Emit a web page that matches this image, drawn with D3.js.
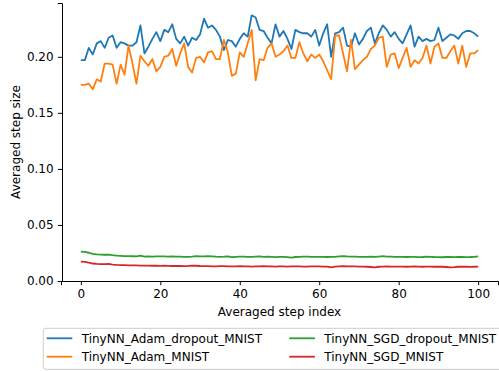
<!DOCTYPE html>
<html>
<head>
<meta charset="utf-8">
<script src="https://cdn.jsdelivr.net/npm/d3@7"></script>
<style>
  html, body { margin: 0; padding: 0; background: #fff; }
  svg { display: block; font-family: "DejaVu Sans", sans-serif; }
</style>
</head>
<body>
<svg id="chart" width="499" height="371"></svg>
<script>
// Averaged step size per averaged step index, one array per run
const adamDropout = [
  0.197, 0.197, 0.208, 0.202, 0.212, 0.214, 0.208, 0.217, 0.219, 0.208,
  0.213, 0.212, 0.210, 0.210, 0.213, 0.228, 0.203, 0.209, 0.216, 0.222,
  0.214, 0.224, 0.222, 0.229, 0.216, 0.212, 0.218, 0.210, 0.217, 0.215,
  0.220, 0.234, 0.226, 0.228, 0.224, 0.218, 0.206, 0.215, 0.214, 0.209,
  0.216, 0.221, 0.218, 0.237, 0.235, 0.224, 0.223, 0.217, 0.212, 0.229,
  0.218, 0.223, 0.216, 0.207, 0.224, 0.222, 0.221, 0.221, 0.218, 0.224,
  0.210, 0.221, 0.229, 0.200, 0.221, 0.222, 0.226, 0.210, 0.209, 0.221,
  0.211, 0.216, 0.223, 0.226, 0.212, 0.221, 0.228, 0.224, 0.218, 0.222,
  0.216, 0.212, 0.220, 0.228, 0.209, 0.218, 0.214, 0.216, 0.214, 0.215,
  0.226, 0.214, 0.217, 0.220, 0.219, 0.216, 0.221, 0.223, 0.223, 0.221,
  0.218
];
const adam = [
  0.175, 0.175, 0.176, 0.171, 0.180, 0.178, 0.194, 0.194, 0.193, 0.176,
  0.193, 0.184, 0.210, 0.194, 0.176, 0.201, 0.196, 0.192, 0.198, 0.187,
  0.191, 0.200, 0.201, 0.207, 0.192, 0.203, 0.212, 0.191, 0.186, 0.199,
  0.200, 0.195, 0.204, 0.205, 0.198, 0.198, 0.215, 0.204, 0.183, 0.185,
  0.204, 0.200, 0.212, 0.224, 0.179, 0.198, 0.197, 0.208, 0.212, 0.200,
  0.202, 0.205, 0.210, 0.199, 0.199, 0.213, 0.203, 0.196, 0.202, 0.199,
  0.202, 0.196, 0.188, 0.180, 0.219, 0.219, 0.203, 0.187, 0.215, 0.189,
  0.193, 0.197, 0.200, 0.207, 0.210, 0.217, 0.218, 0.191, 0.202, 0.203,
  0.190, 0.199, 0.208, 0.191, 0.197, 0.194, 0.199, 0.210, 0.194, 0.209,
  0.212, 0.199, 0.199, 0.205, 0.210, 0.194, 0.210, 0.191, 0.203, 0.203,
  0.206
];
const sgdDropout = [
  0.0262, 0.0260, 0.0252, 0.0242, 0.0237, 0.0236, 0.0234, 0.0235, 0.0230, 0.0226,
  0.0224, 0.0222, 0.0222, 0.0221, 0.0220, 0.0226, 0.0218, 0.0219, 0.0218, 0.0219,
  0.0220, 0.0219, 0.0218, 0.0219, 0.0218, 0.0217, 0.0216, 0.0215, 0.0217, 0.0222,
  0.0220, 0.0219, 0.0221, 0.0219, 0.0217, 0.0216, 0.0217, 0.0219, 0.0212, 0.0215,
  0.0218, 0.0217, 0.0216, 0.0215, 0.0217, 0.0219, 0.0216, 0.0217, 0.0215, 0.0213,
  0.0216, 0.0215, 0.0213, 0.0208, 0.0214, 0.0216, 0.0217, 0.0217, 0.0216, 0.0215,
  0.0216, 0.0215, 0.0214, 0.0215, 0.0216, 0.0219, 0.0222, 0.0219, 0.0218, 0.0217,
  0.0216, 0.0215, 0.0216, 0.0217, 0.0215, 0.0218, 0.0221, 0.0218, 0.0217, 0.0216,
  0.0215, 0.0216, 0.0214, 0.0215, 0.0216, 0.0213, 0.0214, 0.0217, 0.0216, 0.0214,
  0.0213, 0.0212, 0.0214, 0.0215, 0.0213, 0.0214, 0.0215, 0.0213, 0.0214, 0.0216,
  0.0220
];
const sgd = [
  0.0172, 0.0171, 0.0163, 0.0156, 0.0152, 0.0151, 0.0150, 0.0152, 0.0146, 0.0143,
  0.0142, 0.0141, 0.0140, 0.0140, 0.0139, 0.0138, 0.0137, 0.0137, 0.0136, 0.0136,
  0.0135, 0.0136, 0.0135, 0.0134, 0.0134, 0.0135, 0.0133, 0.0134, 0.0138, 0.0136,
  0.0134, 0.0133, 0.0132, 0.0131, 0.0130, 0.0132, 0.0133, 0.0131, 0.0130, 0.0131,
  0.0132, 0.0131, 0.0130, 0.0129, 0.0130, 0.0131, 0.0132, 0.0131, 0.0130, 0.0129,
  0.0130, 0.0131, 0.0129, 0.0130, 0.0131, 0.0130, 0.0129, 0.0128, 0.0130, 0.0131,
  0.0130, 0.0129, 0.0128, 0.0122, 0.0128, 0.0130, 0.0132, 0.0131, 0.0130, 0.0131,
  0.0129, 0.0128, 0.0127, 0.0125, 0.0122, 0.0127, 0.0129, 0.0130, 0.0129, 0.0128,
  0.0129, 0.0128, 0.0127, 0.0129, 0.0130, 0.0128, 0.0127, 0.0129, 0.0128, 0.0127,
  0.0128, 0.0127, 0.0125, 0.0122, 0.0124, 0.0127, 0.0128, 0.0127, 0.0126, 0.0127,
  0.0128
];

const seriesNames = [
  "TinyNN_Adam_dropout_MNIST",
  "TinyNN_Adam_MNIST",
  "TinyNN_SGD_dropout_MNIST",
  "TinyNN_SGD_MNIST"
];
const seriesColors = ["#1f77b4", "#ff7f0e", "#2ca02c", "#d62728"];
const xTicks = [0, 20, 40, 60, 80, 100];
const yTicks = [0, 0.05, 0.10, 0.15, 0.20];

const series = [adamDropout, adam, sgdDropout, sgd].map((values, k) => ({
  name: seriesNames[k],
  color: seriesColors[k],
  values
}));

const svg = d3.select("#chart");

const x = d3.scaleLinear().domain([-5, 105]).range([61, 498]);
const y = d3.scaleLinear().domain([0, 0.248]).range([281, 3]);

// axes: only left and bottom spines
const xAxis = svg.append("g")
  .attr("transform", "translate(0,281)")
  .call(d3.axisBottom(x).tickValues(xTicks).tickSizeOuter(0)
    .tickSize(4.2).tickPadding(4.2).tickFormat(d3.format("d")));
const yAxis = svg.append("g")
  .attr("transform", "translate(62,0)")
  .call(d3.axisLeft(y).tickValues(yTicks).tickSizeOuter(0)
    .tickSize(4.2).tickPadding(4.2).tickFormat(d3.format(".2f")));

[xAxis, yAxis].forEach(g => {
  g.selectAll("text").attr("font-size", 12).attr("fill", "#000")
    .attr("font-family", "DejaVu Sans, sans-serif");
  g.selectAll("line").attr("stroke", "#000").attr("stroke-width", 1);
  g.select(".domain").attr("stroke", "#000").attr("stroke-width", 1);
});

// axis titles
svg.append("text")
  .attr("x", (61 + 498) / 2).attr("y", 315.5)
  .attr("text-anchor", "middle").attr("font-size", 12)
  .text("Averaged step index");
svg.append("text")
  .attr("transform", "translate(19.5,142) rotate(-90)")
  .attr("text-anchor", "middle").attr("font-size", 12)
  .text("Averaged step size");

// series lines
const line = d3.line().x((d, i) => x(i)).y(d => y(d));
svg.append("g").selectAll("path")
  .data(series).join("path")
  .attr("d", d => line(d.values))
  .attr("fill", "none")
  .attr("stroke", d => d.color)
  .attr("stroke-width", 1.8)
  .attr("stroke-linejoin", "round");

// legend, two columns below the axes
const legend = svg.append("g");
legend.append("rect")
  .attr("x", 43.3).attr("y", 328.3).attr("width", 470).attr("height", 41)
  .attr("rx", 2.5).attr("fill", "#fff").attr("fill-opacity", 0.8)
  .attr("stroke", "#cccccc").attr("stroke-width", 1);
const colX = [46.7, 289.3];
const rowY = [338.3, 356.7];
series.forEach((s, k) => {
  const cx = colX[Math.floor(k / 2)];
  const cy = rowY[k % 2];
  legend.append("line")
    .attr("x1", cx).attr("x2", cx + 25.6)
    .attr("y1", cy).attr("y2", cy)
    .attr("stroke", s.color).attr("stroke-width", 1.8);
  legend.append("text")
    .attr("x", cx + 35).attr("y", cy + 4.3)
    .attr("font-size", 12)
    .text(s.name);
});
</script>
</body>
</html>
